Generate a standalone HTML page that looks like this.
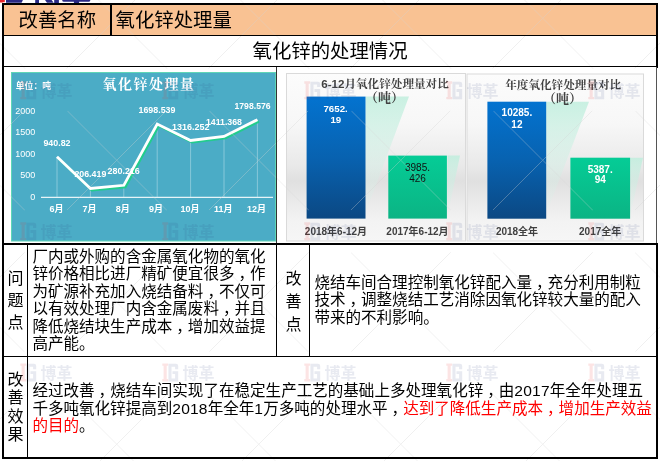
<!DOCTYPE html>
<html><head><meta charset="utf-8">
<style>
html,body{margin:0;padding:0;background:#fff;}
body{width:660px;height:461px;position:relative;overflow:hidden;font-family:"Liberation Sans","Noto Sans CJK SC",sans-serif;color:#000;}
.a{position:absolute;}
.k{position:absolute;background:#000;}
.t{position:absolute;white-space:nowrap;font-size:15.56px;line-height:17.45px;}
.n{letter-spacing:0.2px;}
.cm{position:relative;left:4px;}
.hd{font-size:19.4px;line-height:22px;}
.v{position:absolute;font-size:16px;width:18px;text-align:center;}
.red{color:#f00;}
.wb{fill:rgba(50,60,130,0.11);}
.wt{font-family:"Liberation Sans","Noto Sans CJK SC",sans-serif;font-size:16px;font-weight:bold;fill:rgba(50,60,130,0.11);}
</style></head><body>

<!-- top logo fragment -->
<svg class="a" style="left:0;top:0" width="100" height="4" viewBox="0 0 100 4">
<rect x="0" y="0" width="4.8" height="2.2" fill="#e8262e"/><rect x="0" y="2.2" width="3" height="0.8" fill="#f08080"/>
<g fill="#2a2a85">
<polygon points="6,0 22.9,0 21.6,2.8 6,2.8"/>
<rect x="35.2" y="0" width="3.8" height="3"/>
<polygon points="45,0 51.6,0 53.7,2.8 47,2.8"/>
<rect x="54.2" y="0" width="4.7" height="3"/>
<rect x="62.3" y="-2" width="27.9" height="3.8" rx="1.6"/>
<rect x="73.9" y="0" width="5.2" height="3"/>
</g>
</svg>
<!-- header fill -->
<div class="a" style="left:3px;top:4px;width:653px;height:31px;background:#F9C293;"></div>

<!-- header text -->
<div class="t hd" style="left:18.5px;top:8.5px;">改善名称</div>
<div class="t hd" style="left:115.5px;top:8.5px;">氧化锌处理量</div>
<div class="t hd" style="left:252.5px;top:39.5px;">氧化锌的处理情况</div>

<!-- charts -->
<svg class="a" style="left:0;top:0" width="660" height="461" viewBox="0 0 660 461">
  <defs>
    <linearGradient id="bgG" x1="0" y1="0" x2="0" y2="1">
      <stop offset="0" stop-color="#fcfcfc"/>
      <stop offset="0.3" stop-color="#f7f7f7"/>
      <stop offset="0.55" stop-color="#e9e9e9"/>
      <stop offset="0.64" stop-color="#e0e0e0"/>
      <stop offset="0.74" stop-color="#e8e8e8"/>
      <stop offset="0.88" stop-color="#f3f3f3"/>
      <stop offset="1" stop-color="#f6f6f6"/>
    </linearGradient>
    <linearGradient id="blueG" x1="0" y1="0" x2="0" y2="1">
      <stop offset="0" stop-color="#0373d0"/>
      <stop offset="0.5" stop-color="#0862b0"/>
      <stop offset="1" stop-color="#0b4883"/>
    </linearGradient>
    <linearGradient id="greenG" x1="0" y1="0" x2="0" y2="1">
      <stop offset="0" stop-color="#05cc96"/>
      <stop offset="1" stop-color="#0bb484"/>
    </linearGradient>
    <linearGradient id="shG" x1="0" y1="0" x2="0" y2="1">
      <stop offset="0" stop-color="#bdeedc" stop-opacity="0.8"/>
      <stop offset="1" stop-color="#d8f3ea" stop-opacity="0.1"/>
    </linearGradient>
  </defs>

  <!-- teal line chart -->
  <rect x="11.5" y="72.5" width="264" height="168.5" fill="#4BACC6" stroke="#5fd6b6" stroke-width="1"/>
  <g font-family="Liberation Sans, Noto Sans CJK SC, sans-serif" fill="#fff">
    <text x="15.8" y="89.4" font-size="9" font-weight="bold" textLength="35.3" lengthAdjust="spacingAndGlyphs">单位：吨</text>
    <text x="149" y="88.5" font-size="14" font-weight="bold" text-anchor="middle" letter-spacing="1.5" font-family="Noto Serif CJK SC, serif">氧化锌处理量</text>
    <g font-size="9" text-anchor="end">
      <text x="35.2" y="113.6">2000</text>
      <text x="35.2" y="135.2">1500</text>
      <text x="35.2" y="156.8">1000</text>
      <text x="35.2" y="178.4">500</text>
      <text x="35.2" y="200">0</text>
    </g>
    <line x1="41" y1="197.4" x2="273" y2="197.4" stroke="#e6f4f8" stroke-width="1.2"/>
    <g stroke="#d9eef4" stroke-width="0.7" opacity="0.6">
      <line x1="57" y1="156.8" x2="57" y2="197"/>
      <line x1="90.4" y1="188.5" x2="90.4" y2="197"/>
      <line x1="123.8" y1="185.3" x2="123.8" y2="197"/>
      <line x1="157.2" y1="124" x2="157.2" y2="197"/>
      <line x1="190.6" y1="140.5" x2="190.6" y2="197"/>
      <line x1="224" y1="136.4" x2="224" y2="197"/>
      <line x1="257.4" y1="119.7" x2="257.4" y2="197"/>
    </g>
    <polyline points="58.5,158.4 91.9,190.1 125.3,186.9 158.7,125.6 192.1,142.1 225.5,138.0 258.9,121.3" fill="none" stroke="#22cc8c" stroke-width="2.6" stroke-linejoin="miter"/>
    <polyline points="57,156.8 90.4,188.5 123.8,185.3 157.2,124 190.6,140.5 224,136.4 257.4,119.7" fill="none" stroke="#fff" stroke-width="2.8" stroke-linejoin="miter"/>
    <g font-size="9" font-weight="bold" text-anchor="middle">
      <text x="56.5" y="211.6">6月</text>
      <text x="89.6" y="211.6">7月</text>
      <text x="122.7" y="211.6">8月</text>
      <text x="156" y="211.6">9月</text>
      <text x="190" y="211.6">10月</text>
      <text x="223.2" y="211.6">11月</text>
      <text x="256.5" y="211.6">12月</text>
    </g>
    <g font-size="9.8" font-weight="bold">
      <text x="43.4" y="145.5" textLength="27.1" lengthAdjust="spacingAndGlyphs">940.82</text>
      <text x="74.4" y="177.4" textLength="31.9" lengthAdjust="spacingAndGlyphs">206.419</text>
      <text x="107.5" y="174.2" textLength="32.3" lengthAdjust="spacingAndGlyphs">280.216</text>
      <text x="138.5" y="112.8" textLength="37.0" lengthAdjust="spacingAndGlyphs">1698.539</text>
      <text x="172.0" y="130.3" textLength="37.5" lengthAdjust="spacingAndGlyphs">1316.252</text>
      <text x="205.9" y="125.1" textLength="36.1" lengthAdjust="spacingAndGlyphs">1411.368</text>
      <text x="234.5" y="109.0" textLength="36.1" lengthAdjust="spacingAndGlyphs">1798.576</text>
    </g>
  </g>

  <!-- middle bar chart -->
  <rect x="286.5" y="73.5" width="179" height="167.5" fill="url(#bgG)" stroke="#dadada" stroke-width="1"/>
  <polygon points="365.5,96.6 409,96.6 366,212 365.5,212" fill="url(#shG)"/>
  <polygon points="447.5,155.6 460,155.6 448,214 447.5,214" fill="url(#shG)"/>
  <rect x="306.6" y="96.6" width="58.9" height="122" fill="url(#blueG)"/>
  <rect x="388.3" y="155.6" width="58.6" height="63" fill="url(#greenG)"/>
  <g font-family="Liberation Sans, Noto Serif CJK SC, serif" font-weight="bold" fill="#404040" text-anchor="middle">
    <text x="385" y="88.3" font-size="11.6">6-12月氧化锌处理量对比</text>
    <text x="384.6" y="101.8" font-size="13">（吨）</text>
  </g>
  <g font-family="Liberation Sans, Noto Sans CJK SC, sans-serif" text-anchor="middle">
    <text x="335.6" y="112" font-size="9.7" font-weight="bold" fill="#fff">7652.</text>
    <text x="335.8" y="123" font-size="9.7" font-weight="bold" fill="#fff">19</text>
    <text x="417.5" y="170.9" font-size="10" fill="#111">3985.</text>
    <text x="417.5" y="181.9" font-size="10" fill="#111">426</text>
    <text x="336" y="234.5" font-size="10" font-weight="bold" fill="#404040">2018年6-12月</text>
    <text x="417.5" y="234.5" font-size="10" font-weight="bold" fill="#404040">2017年6-12月</text>
  </g>

  <!-- right bar chart -->
  <rect x="467" y="74" width="176.5" height="167" fill="url(#bgG)" stroke="#dadada" stroke-width="1"/>
  <polygon points="546.2,101.7 589,101.7 547,212 546.2,212" fill="url(#shG)"/>
  <polygon points="630.1,157.7 643,157.7 630.6,214 630.1,214" fill="url(#shG)"/>
  <rect x="487.4" y="101.7" width="58.8" height="117" fill="url(#blueG)"/>
  <rect x="570.4" y="157.7" width="59.7" height="61" fill="url(#greenG)"/>
  <g font-family="Liberation Sans, Noto Serif CJK SC, serif" font-weight="bold" fill="#404040" text-anchor="middle">
    <text x="563.2" y="89.3" font-size="11.6">年度氧化锌处理量对比</text>
    <text x="562.6" y="102.8" font-size="13">（吨）</text>
  </g>
  <g font-family="Liberation Sans, Noto Sans CJK SC, sans-serif" text-anchor="middle" font-weight="bold">
    <text x="516.9" y="115.8" font-size="10" fill="#fff">10285.</text>
    <text x="516.9" y="127.9" font-size="10" fill="#fff">12</text>
    <text x="600.2" y="172.5" font-size="10" fill="#fff">5387.</text>
    <text x="600.2" y="183" font-size="10" fill="#fff">94</text>
    <text x="517" y="234.5" font-size="10" fill="#404040">2018全年</text>
    <text x="600.2" y="234.5" font-size="10" fill="#404040">2017全年</text>
  </g>
</svg>

<!-- problem row -->
<div class="v" style="left:6.5px;top:268px;line-height:22px;">问<br>题<br>点</div>
<div class="t" style="left:32.4px;top:248px;">厂内或外购的含金属氧化物的氧化<br>锌价格相比进厂精矿便宜很多<span class="cm">，</span>作<br>为矿源补充加入烧结备料<span class="cm">，</span>不仅可<br>以有效处理厂内含金属废料<span class="cm">，</span>并且<br>降低烧结块生产成本<span class="cm">，</span>增加效益提<br>高产能。</div>
<div class="v" style="left:284.5px;top:266.5px;line-height:23.3px;">改<br>善<br>点</div>
<div class="t" style="left:314.4px;top:274px;">烧结车间合理控制氧化锌配入量<span class="cm">，</span>充分利用制粒<br>技术<span class="cm">，</span>调整烧结工艺消除因氧化锌较大量的配入<br>带来的不利影响。</div>

<!-- effect row -->
<div class="v" style="left:6.5px;top:371.2px;line-height:18.3px;">改<br>善<br>效<br>果</div>
<div class="t" style="left:32.4px;top:382.3px;">经过改善<span class="cm">，</span>烧结车间实现了在稳定生产工艺的基础上多处理氧化锌<span class="cm">，</span>由<span class="n">2017</span>年全年处理五<br>千多吨氧化锌提高到<span class="n">2018</span>年全年<span class="n">1</span>万多吨的处理水平<span class="cm">，</span><span class="red">达到了降低生产成本<span class="cm">，</span>增加生产效益<br>的目的</span>。</div>

<svg class="a" style="left:0;top:0;pointer-events:none" width="660" height="461" viewBox="0 0 660 461">
<defs><mask id="wmk"><rect x="0" y="0" width="660" height="461" fill="#fff"/><g fill="#000"><circle cx="-96" cy="90.3" r="30"/><circle cx="46" cy="90.3" r="30"/><circle cx="188" cy="90.3" r="30"/><circle cx="330" cy="90.3" r="30"/><circle cx="472" cy="90.3" r="30"/><circle cx="614" cy="90.3" r="30"/><circle cx="756" cy="90.3" r="30"/><circle cx="-96" cy="231.3" r="30"/><circle cx="46" cy="231.3" r="30"/><circle cx="188" cy="231.3" r="30"/><circle cx="330" cy="231.3" r="30"/><circle cx="472" cy="231.3" r="30"/><circle cx="614" cy="231.3" r="30"/><circle cx="756" cy="231.3" r="30"/><circle cx="-96" cy="372.4" r="30"/><circle cx="46" cy="372.4" r="30"/><circle cx="188" cy="372.4" r="30"/><circle cx="330" cy="372.4" r="30"/><circle cx="472" cy="372.4" r="30"/><circle cx="614" cy="372.4" r="30"/><circle cx="756" cy="372.4" r="30"/><circle cx="-96" cy="-50.7" r="30"/><circle cx="46" cy="-50.7" r="30"/><circle cx="188" cy="-50.7" r="30"/><circle cx="330" cy="-50.7" r="30"/><circle cx="472" cy="-50.7" r="30"/><circle cx="614" cy="-50.7" r="30"/><circle cx="756" cy="-50.7" r="30"/><circle cx="-96" cy="513.4" r="30"/><circle cx="46" cy="513.4" r="30"/><circle cx="188" cy="513.4" r="30"/><circle cx="330" cy="513.4" r="30"/><circle cx="472" cy="513.4" r="30"/><circle cx="614" cy="513.4" r="30"/><circle cx="756" cy="513.4" r="30"/></g></mask></defs>
<g mask="url(#wmk)" stroke="#d4d4d4" stroke-width="1" opacity="0.33"><line x1="-10" y1="-818.5" x2="680" y2="-128.5"/><line x1="-10" y1="-676.5" x2="680" y2="13.5"/><line x1="-10" y1="-534.5" x2="680" y2="155.5"/><line x1="-10" y1="-392.5" x2="680" y2="297.5"/><line x1="-10" y1="-250.5" x2="680" y2="439.5"/><line x1="-10" y1="-108.5" x2="680" y2="581.5"/><line x1="-10" y1="33.5" x2="680" y2="723.5"/><line x1="-10" y1="175.5" x2="680" y2="865.5"/><line x1="-10" y1="317.5" x2="680" y2="1007.5"/><line x1="-10" y1="459.5" x2="680" y2="1149.5"/><line x1="-10" y1="3" x2="680" y2="-687"/><line x1="-10" y1="145" x2="680" y2="-545"/><line x1="-10" y1="287" x2="680" y2="-403"/><line x1="-10" y1="429" x2="680" y2="-261"/><line x1="-10" y1="571" x2="680" y2="-119"/><line x1="-10" y1="713" x2="680" y2="23"/><line x1="-10" y1="855" x2="680" y2="165"/><line x1="-10" y1="997" x2="680" y2="307"/><line x1="-10" y1="1139" x2="680" y2="449"/><line x1="-10" y1="1281" x2="680" y2="591"/></g>
</svg>

<svg class="a" style="left:0;top:0;pointer-events:none" width="660" height="461" viewBox="0 0 660 461">
<g transform="translate(20,81.3)"><path d="M0.3 0h5.8v2.4h-1.4v13.2h1.4v2.4h-5.8v-2.4h1.3v-13.2h-1.3z" fill="rgba(235,45,45,0.13)"/><path d="M6.4 0.4h7.6q2.2 0 2.2 2.2v3.2h-3.1v-2.5h-3.6v11.8h3.6v-4.4h-2.6v-2.9h5.7v10.2h-9.8z" class="wb"/><text x="20.5" y="15.6" class="wt">博革</text></g>
<g transform="translate(162,81.3)"><path d="M0.3 0h5.8v2.4h-1.4v13.2h1.4v2.4h-5.8v-2.4h1.3v-13.2h-1.3z" fill="rgba(235,45,45,0.13)"/><path d="M6.4 0.4h7.6q2.2 0 2.2 2.2v3.2h-3.1v-2.5h-3.6v11.8h3.6v-4.4h-2.6v-2.9h5.7v10.2h-9.8z" class="wb"/><text x="20.5" y="15.6" class="wt">博革</text></g>
<g transform="translate(304,81.3)"><path d="M0.3 0h5.8v2.4h-1.4v13.2h1.4v2.4h-5.8v-2.4h1.3v-13.2h-1.3z" fill="rgba(235,45,45,0.13)"/><path d="M6.4 0.4h7.6q2.2 0 2.2 2.2v3.2h-3.1v-2.5h-3.6v11.8h3.6v-4.4h-2.6v-2.9h5.7v10.2h-9.8z" class="wb"/><text x="20.5" y="15.6" class="wt">博革</text></g>
<g transform="translate(446,81.3)"><path d="M0.3 0h5.8v2.4h-1.4v13.2h1.4v2.4h-5.8v-2.4h1.3v-13.2h-1.3z" fill="rgba(235,45,45,0.13)"/><path d="M6.4 0.4h7.6q2.2 0 2.2 2.2v3.2h-3.1v-2.5h-3.6v11.8h3.6v-4.4h-2.6v-2.9h5.7v10.2h-9.8z" class="wb"/><text x="20.5" y="15.6" class="wt">博革</text></g>
<g transform="translate(588,81.3)"><path d="M0.3 0h5.8v2.4h-1.4v13.2h1.4v2.4h-5.8v-2.4h1.3v-13.2h-1.3z" fill="rgba(235,45,45,0.13)"/><path d="M6.4 0.4h7.6q2.2 0 2.2 2.2v3.2h-3.1v-2.5h-3.6v11.8h3.6v-4.4h-2.6v-2.9h5.7v10.2h-9.8z" class="wb"/><text x="20.5" y="15.6" class="wt">博革</text></g>
<g transform="translate(20,222.3)"><path d="M0.3 0h5.8v2.4h-1.4v13.2h1.4v2.4h-5.8v-2.4h1.3v-13.2h-1.3z" fill="rgba(235,45,45,0.13)"/><path d="M6.4 0.4h7.6q2.2 0 2.2 2.2v3.2h-3.1v-2.5h-3.6v11.8h3.6v-4.4h-2.6v-2.9h5.7v10.2h-9.8z" class="wb"/><text x="20.5" y="15.6" class="wt">博革</text></g>
<g transform="translate(162,222.3)"><path d="M0.3 0h5.8v2.4h-1.4v13.2h1.4v2.4h-5.8v-2.4h1.3v-13.2h-1.3z" fill="rgba(235,45,45,0.13)"/><path d="M6.4 0.4h7.6q2.2 0 2.2 2.2v3.2h-3.1v-2.5h-3.6v11.8h3.6v-4.4h-2.6v-2.9h5.7v10.2h-9.8z" class="wb"/><text x="20.5" y="15.6" class="wt">博革</text></g>
<g transform="translate(304,222.3)"><path d="M0.3 0h5.8v2.4h-1.4v13.2h1.4v2.4h-5.8v-2.4h1.3v-13.2h-1.3z" fill="rgba(235,45,45,0.13)"/><path d="M6.4 0.4h7.6q2.2 0 2.2 2.2v3.2h-3.1v-2.5h-3.6v11.8h3.6v-4.4h-2.6v-2.9h5.7v10.2h-9.8z" class="wb"/><text x="20.5" y="15.6" class="wt">博革</text></g>
<g transform="translate(446,222.3)"><path d="M0.3 0h5.8v2.4h-1.4v13.2h1.4v2.4h-5.8v-2.4h1.3v-13.2h-1.3z" fill="rgba(235,45,45,0.13)"/><path d="M6.4 0.4h7.6q2.2 0 2.2 2.2v3.2h-3.1v-2.5h-3.6v11.8h3.6v-4.4h-2.6v-2.9h5.7v10.2h-9.8z" class="wb"/><text x="20.5" y="15.6" class="wt">博革</text></g>
<g transform="translate(588,222.3)"><path d="M0.3 0h5.8v2.4h-1.4v13.2h1.4v2.4h-5.8v-2.4h1.3v-13.2h-1.3z" fill="rgba(235,45,45,0.13)"/><path d="M6.4 0.4h7.6q2.2 0 2.2 2.2v3.2h-3.1v-2.5h-3.6v11.8h3.6v-4.4h-2.6v-2.9h5.7v10.2h-9.8z" class="wb"/><text x="20.5" y="15.6" class="wt">博革</text></g>
<g transform="translate(20,363.4)"><path d="M0.3 0h5.8v2.4h-1.4v13.2h1.4v2.4h-5.8v-2.4h1.3v-13.2h-1.3z" fill="rgba(235,45,45,0.13)"/><path d="M6.4 0.4h7.6q2.2 0 2.2 2.2v3.2h-3.1v-2.5h-3.6v11.8h3.6v-4.4h-2.6v-2.9h5.7v10.2h-9.8z" class="wb"/><text x="20.5" y="15.6" class="wt">博革</text></g>
<g transform="translate(162,363.4)"><path d="M0.3 0h5.8v2.4h-1.4v13.2h1.4v2.4h-5.8v-2.4h1.3v-13.2h-1.3z" fill="rgba(235,45,45,0.13)"/><path d="M6.4 0.4h7.6q2.2 0 2.2 2.2v3.2h-3.1v-2.5h-3.6v11.8h3.6v-4.4h-2.6v-2.9h5.7v10.2h-9.8z" class="wb"/><text x="20.5" y="15.6" class="wt">博革</text></g>
<g transform="translate(304,363.4)"><path d="M0.3 0h5.8v2.4h-1.4v13.2h1.4v2.4h-5.8v-2.4h1.3v-13.2h-1.3z" fill="rgba(235,45,45,0.13)"/><path d="M6.4 0.4h7.6q2.2 0 2.2 2.2v3.2h-3.1v-2.5h-3.6v11.8h3.6v-4.4h-2.6v-2.9h5.7v10.2h-9.8z" class="wb"/><text x="20.5" y="15.6" class="wt">博革</text></g>
<g transform="translate(446,363.4)"><path d="M0.3 0h5.8v2.4h-1.4v13.2h1.4v2.4h-5.8v-2.4h1.3v-13.2h-1.3z" fill="rgba(235,45,45,0.13)"/><path d="M6.4 0.4h7.6q2.2 0 2.2 2.2v3.2h-3.1v-2.5h-3.6v11.8h3.6v-4.4h-2.6v-2.9h5.7v10.2h-9.8z" class="wb"/><text x="20.5" y="15.6" class="wt">博革</text></g>
<g transform="translate(588,363.4)"><path d="M0.3 0h5.8v2.4h-1.4v13.2h1.4v2.4h-5.8v-2.4h1.3v-13.2h-1.3z" fill="rgba(235,45,45,0.13)"/><path d="M6.4 0.4h7.6q2.2 0 2.2 2.2v3.2h-3.1v-2.5h-3.6v11.8h3.6v-4.4h-2.6v-2.9h5.7v10.2h-9.8z" class="wb"/><text x="20.5" y="15.6" class="wt">博革</text></g>
</svg>
<!-- table lines -->
<div class="k" style="left:2px;top:3px;width:655.5px;height:2px;"></div>
<div class="k" style="left:2px;top:3px;width:2px;height:456.4px;"></div>
<div class="k" style="left:655.5px;top:3px;width:2px;height:64.5px;"></div>
<div class="a" style="left:656px;top:67px;width:1px;height:177px;background:#555;"></div>
<div class="k" style="left:655.5px;top:243px;width:2px;height:216.4px;"></div>
<div class="k" style="left:2px;top:34.8px;width:655px;height:1.5px;"></div>
<div class="k" style="left:110.3px;top:3px;width:1.3px;height:32px;"></div>
<div class="k" style="left:2px;top:65.8px;width:655px;height:1.5px;"></div>
<div class="a" style="left:276px;top:67px;width:1px;height:177px;background:#333;"></div>
<div class="k" style="left:2px;top:243px;width:655px;height:2px;"></div>
<div class="k" style="left:27px;top:244px;width:1.3px;height:112px;"></div>
<div class="k" style="left:276.2px;top:244px;width:1.3px;height:112px;"></div>
<div class="k" style="left:309.1px;top:244px;width:1.4px;height:112px;"></div>
<div class="k" style="left:2px;top:355.5px;width:655px;height:1.4px;"></div>
<div class="k" style="left:27.2px;top:355px;width:1.3px;height:103px;"></div>
<div class="k" style="left:2px;top:457.4px;width:655.5px;height:2px;"></div>

</body></html>
